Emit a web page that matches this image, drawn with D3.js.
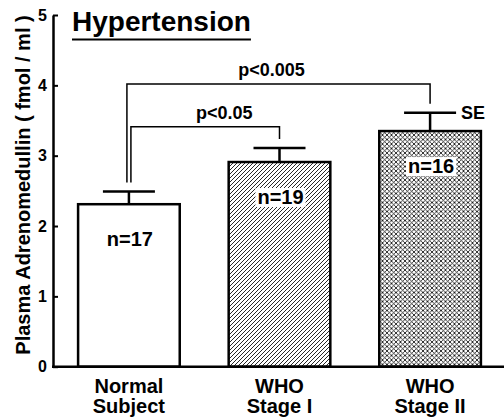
<!DOCTYPE html>
<html><head><meta charset="utf-8">
<script src="https://cdn.jsdelivr.net/npm/d3@7"></script>
<style>
html,body{margin:0;padding:0;background:#fff;}
text{font-family:"Liberation Sans",Arial,Helvetica,sans-serif;font-weight:bold;fill:#000;}
</style></head>
<body>
<svg id="chart" width="504" height="419"></svg>
<script>
const categories = ["Normal Subject", "WHO Stage I", "WHO Stage II"];
const categoryLines = [["Normal", "Subject"], ["WHO", "Stage I"], ["WHO", "Stage II"]];
const means = [2.31, 2.91, 3.35];
const seTop = [2.49, 3.11, 3.61];
const nLabels = ["n=17", "n=19", "n=16"];
const fills = ["white", "url(#hatch)", "url(#cross)"];
const yTicks = [0, 1, 2, 3, 4, 5];
const brackets = [
  {from: 0, to: 2, level: 4.02, label: "p<0.005", dl: -2},
  {from: 0, to: 1, level: 3.41, label: "p<0.05", dl: 2}
];
const title = "Hypertension";
const yTitle = "Plasma Adrenomedullin ( fmol / ml )";

const svg = d3.select("#chart");
const defs = svg.append("defs");
const h = defs.append("pattern").attr("id","hatch").attr("patternUnits","userSpaceOnUse")
  .attr("width",4).attr("height",4);
h.append("rect").attr("width",4).attr("height",4).attr("fill","#fff");
h.append("path").attr("d","M-1,1 L1,-1 M0,4 L4,0 M3,5 L5,3").attr("stroke","#000").attr("stroke-width",0.85);
const c = defs.append("pattern").attr("id","cross").attr("patternUnits","userSpaceOnUse")
  .attr("width",4.5).attr("height",4.5);
c.append("rect").attr("width",4.5).attr("height",4.5).attr("fill","#fff");
c.append("path").attr("d","M-1,1 L1,-1 M0,4.5 L4.5,0 M3.5,5.5 L5.5,3.5 M-1,3.5 L1,5.5 M0,0 L4.5,4.5 M3.5,-1 L5.5,1")
  .attr("stroke","#000").attr("stroke-width",0.8);

const y = d3.scaleLinear().domain([0,5]).range([366.7,15]);
const x = d3.scaleBand().domain(categories).range([54,505]).paddingInner(0.325).paddingOuter(0.16);
const cx = d => x(d) + x.bandwidth()/2;

// bars
svg.selectAll("rect.bar").data(categories).enter().append("rect")
  .attr("x", d => x(d)).attr("width", x.bandwidth())
  .attr("y", (d,i) => y(means[i])).attr("height", (d,i) => y(0) - y(means[i]))
  .attr("fill", (d,i) => fills[i]).attr("stroke","#000").attr("stroke-width",2.5);

// error bars
categories.forEach((d,i) => {
  svg.append("line").attr("x1",cx(d)).attr("x2",cx(d)).attr("y1",y(means[i])).attr("y2",y(seTop[i]))
    .attr("stroke","#000").attr("stroke-width",2.5);
  svg.append("line").attr("x1",cx(d)-26).attr("x2",cx(d)+26).attr("y1",y(seTop[i])).attr("y2",y(seTop[i]))
    .attr("stroke","#000").attr("stroke-width",2.5);
});
svg.append("text").attr("x", cx(categories[2])+31).attr("y", y(seTop[2])+6)
  .attr("font-size",18).text("SE");

// n labels with white box
categories.forEach((d,i) => {
  const g = svg.append("g");
  const t = g.append("text").attr("x",cx(d)+1).attr("y",y(means[i])+42).attr("text-anchor","middle")
    .attr("font-size",20).text(nLabels[i]);
  const bb = t.node().getBBox();
  g.insert("rect","text").attr("x",bb.x-2).attr("y",bb.y+2).attr("width",bb.width+4).attr("height",bb.height-3)
    .attr("fill","#fff");
});

// brackets
brackets.forEach(b => {
  const x1 = cx(categories[b.from]) + b.dl, x2 = cx(categories[b.to]);
  const yl = y(seTop[b.from]) - 9, yr = y(seTop[b.to]) - 9, yt = y(b.level);
  svg.append("path").attr("d",`M${x1},${yl} V${yt} H${x2} V${yr}`)
    .attr("fill","none").attr("stroke","#000").attr("stroke-width",1.5);
  svg.append("text").attr("x",(x1+x2)/2 + (b.to===1?19:-7)).attr("y",yt-8).attr("text-anchor","middle")
    .attr("font-size",18).text(b.label);
});

// axes
const yAxis = d3.axisLeft(y).tickValues(yTicks).tickSize(-5).tickSizeOuter(0).tickPadding(6).tickFormat(d3.format("d"));
const ga = svg.append("g").attr("transform","translate(53,0)").call(yAxis);
ga.select(".domain").attr("stroke","#000").attr("stroke-width",2.5);
ga.selectAll(".tick line").attr("stroke","#000").attr("stroke-width",2);
ga.selectAll(".tick text").attr("font-size",16).attr("font-family","Liberation Sans, Arial, sans-serif").attr("font-weight","bold");
svg.append("line").attr("x1",52).attr("x2",504).attr("y1",y(0)).attr("y2",y(0)).attr("stroke","#000").attr("stroke-width",2.5);

// category labels
categories.forEach((d,i) => {
  categoryLines[i].forEach((ln,j) => {
    svg.append("text").attr("x",cx(d)).attr("y",393 + j*20).attr("text-anchor","middle")
      .attr("font-size",20).text(ln);
  });
});

// title
const tt = svg.append("text").attr("x",72).attr("y",31).attr("font-size",28).text(title);
const tb = tt.node().getBBox();
svg.append("line").attr("x1",72).attr("x2",72+tb.width).attr("y1",39.5).attr("y2",39.5).attr("stroke","#000").attr("stroke-width",2);

// y title
svg.append("text").attr("transform","translate(30,185) rotate(-90)").attr("text-anchor","middle")
  .attr("font-size",20).text(yTitle);
</script>
</body></html>
